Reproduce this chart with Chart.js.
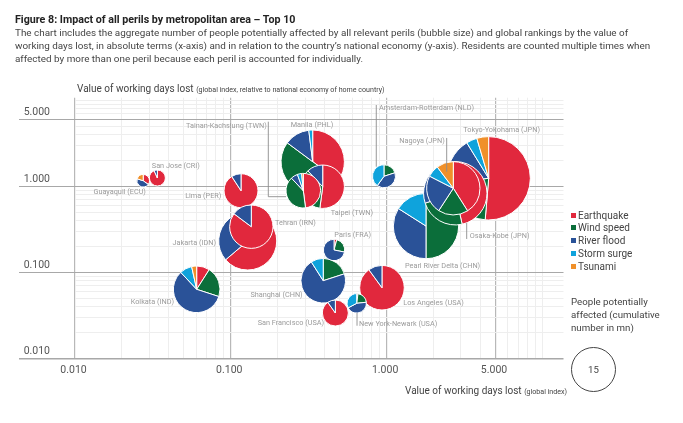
<!DOCTYPE html>
<html>
<head>
<meta charset="utf-8">
<title>Figure 8</title>
<script src="https://cdn.jsdelivr.net/npm/chart.js@4"></script>
<style>
  body { margin: 0; background: #fff; font-family: Roboto, sans-serif; color: #444; }
  #wrap { position: relative; width: 683px; height: 423px; overflow: hidden; }
  #line-chart { position: absolute; left: 0; top: 0; }
  .txt { position: absolute; white-space: nowrap; }
  .small { font-size: 7.1px; }
  #head { left: 15px; top: 13px; font-size: 10.7px; font-weight: bold; color: #222; }
  #intro { left: 15px; top: 26px; font-size: 9.9px; line-height: 13px; color: #444; }
  #yTitle { left: 77px; top: 83px; font-size: 10px; }
  #xTitle { left: 405px; top: 385px; font-size: 10px; }
  #legend { left: 571px; top: 209.5px; font-size: 10px; line-height: 12.9px; }
  #legend i { display: inline-block; width: 5px; height: 5px; margin-right: 2px; vertical-align: 1px; }
  #sizeNote { left: 571px; top: 296px; font-size: 9.7px; line-height: 12.8px; }
  #sizeKey { left: 571px; top: 347px; width: 43px; height: 43px; border: 1px solid #444; border-radius: 50%;
    text-align: center; line-height: 43px; font-size: 9.6px; }
</style>
</head>
<body>
<div id="wrap">
  <canvas id="line-chart" width="683" height="423"></canvas>
  <div class="txt" id="head">Figure 8: Impact of all perils by metropolitan area – Top 10</div>
  <div class="txt" id="intro">The chart includes the aggregate number of people potentially affected by all relevant perils (bubble size) and global rankings by the value of<br>working days lost, in absolute terms (x-axis) and in relation to the country’s national economy (y-axis). Residents are counted multiple times when<br>affected by more than one peril because each peril is accounted for individually.</div>
  <div class="txt" id="yTitle">Value of working days lost <span class="small">(global index, relative to national economy of home country)</span></div>
  <div class="txt" id="xTitle">Value of working days lost <span class="small">(global index)</span></div>
  <div class="txt" id="legend"></div>
  <div class="txt" id="sizeNote">People potentially<br>affected (cumulative<br>number in mn)</div>
  <div class="txt" id="sizeKey">15</div>
</div>
<script>
// listed in drawing order, later cities sit on top
var cities = ["Guayaquil (ECU)", "San Jose (CRI)", "Lima (PER)", "Jakarta (IDN)", "Tehran (IRN)", "Manila (PHL)", "Taipei (TWN)", "Tainan-Kachsiung (TWN)", "Amsterdam-Rotterdam (NLD)", "Pearl River Delta (CHN)", "Tokyo-Yokohama (JPN)", "Osaka-Kobe (JPN)", "Nagoya (JPN)", "Los Angeles (USA)", "Shanghai (CHN)", "San Francisco (USA)", "New York-Newark (USA)", "Paris (FRA)", "Kolkata (IND)"]
var xValues = [0.0274, 0.0338, 0.1163, 0.1284, 0.1354, 0.3355, 0.389, 0.292, 0.962, 1.79, 4.52, 2.76, 2.68, 0.934, 0.392, 0.469, 0.643, 0.46, 0.0604]
var yValues = [1.16, 1.248, 0.889, 0.232, 0.34, 1.929, 0.989, 0.889, 1.306, 0.346, 1.238, 0.83, 0.948, 0.0666, 0.0803, 0.0339, 0.0439, 0.1824, 0.0638]

// people affected per peril, mn
var earthquake = [0.42, 1.8, 7.9, 16.2, 12.1, 10.6, 7.4, 4.33, 0, 0, 26.9, 14.1, 8.8, 13.5, 0, 4.6, 0.06, 0.14, 1.48]
var windSpeed = [0, 0, 0, 0, 0, 15.2, 5.1, 3.61, 0.8, 16.1, 11.5, 7.1, 3.9, 0, 3, 0, 0.6, 0.83, 3.44]
var riverFlood = [0.54, 0.13, 0.8, 9.2, 2.1, 3.9, 1.7, 0.59, 1.59, 10.95, 9.4, 6.1, 5, 1.5, 10.65, 0.5, 1.25, 2.48, 9.5]
var stormSurge = [0, 0, 0, 0, 0, 0.6, 0, 0.36, 1.6, 5.15, 2.2, 1.8, 1.55, 0, 1.35, 0, 0.93, 0, 1.4]
var tsunami = [0.24, 0, 0, 0, 0, 0, 0, 0.14, 0, 0, 2.4, 1.2, 2.2, 0, 0, 0, 0, 0, 0.57]

var perilNames = ["Earthquake", "Wind speed", "River flood", "Storm surge", "Tsunami"]
var perilValues = [earthquake, windSpeed, riverFlood, stormSurge, tsunami]
var perilColors = ["#e1283d", "#0b6e3a", "#2a5298", "#0fa3dc", "#f0902a"]

var xMajorTicks = [0.01, 0.1, 1, 5]
var xTickLabels = ["0.010", "0.100", "1.000", "5.000"]
var xMinorTicks = [0.02, 0.03, 0.04, 0.05, 0.06, 0.07, 0.08, 0.09, 0.2, 0.3, 0.4, 0.5, 0.6, 0.7, 0.8, 0.9, 2, 3, 4, 6, 7, 8, 9, 10]
// the original draws its top rule, labelled 5.000, where 6 falls on the log grid
var yMajorTicks = [0.01, 0.1, 1, 6]
var yTickLabels = ["0.010", "0.100", "1.000", "5.000"]
var yMinorTicks = [0.02, 0.03, 0.04, 0.05, 0.06, 0.07, 0.08, 0.09, 0.2, 0.3, 0.4, 0.5, 0.6, 0.7, 0.8, 0.9, 2, 3, 4, 5, 7, 8, 9, 10]

var keyPeople = 15
var keyRadius = 22.3

// label placement next to each bubble, same order as cities: dx, dy, align
var labelSpots = [[2.7, 11, "right"], [-5.6, -12.3, "left"], [-19.7, 5.6, "right"], [-31.7, 1.7, "right"], [23.7, -3.4, "left"], [-22, -36.7, "left"], [8, 26.6, "left"], [-36.6, -65, "right"], [-5, -68, "left"], [-21, 39.7, "left"], [-25.4, -48, "left"], [14.4, 42.7, "left"], [-8.6, -47.3, "right"], [21.3, 15.3, "left"], [-20.6, 14.6, "right"], [-11.3, 9.7, "right"], [2.3, 20.4, "left"], [0.3, -15.3, "left"], [-22.7, 13, "right"]]
var leaders = {
  "Tainan-Kachsiung (TWN)": [[-35, -69], [-35, 6], [-17.3, 6]],
  "Amsterdam-Rotterdam (NLD)": [[-7.7, -71.3], [-7.7, -9.6]],
  "Nagoya (JPN)": [[-6.6, -50.3], [-6.6, -16.6]],
  "Osaka-Kobe (JPN)": [[11.4, 29.7], [11.4, 45.7]],
  "New York-Newark (USA)": [[0.3, 9.7], [0.3, 22.4]]
}

function cityTotal(i){
  var total = 0
  for (var p = 0; p < perilValues.length; p++){
    total += perilValues[p][i]
  }
  return total
}

function bubbleRows(){
  var rows = []
  for (var i = 0; i < cities.length; i++){
    rows.push({x: xValues[i], y: yValues[i], r: keyRadius * Math.sqrt(cityTotal(i) / keyPeople)})
  }
  return rows
}

function tickObjects(major, minor){
  var out = []
  major.concat(minor).sort(function(a, b){ return a - b }).forEach(function(v){
    out.push({value: v})
  })
  return out
}

function drawPie(ctx, x, y, r, i){
  var total = cityTotal(i)
  var angle = -Math.PI / 2
  for (var p = 0; p < perilValues.length; p++){
    var part = perilValues[p][i]
    if (!part) continue
    var next = angle + part / total * Math.PI * 2
    ctx.beginPath()
    ctx.moveTo(x, y)
    ctx.arc(x, y, r, angle, next)
    ctx.closePath()
    ctx.fillStyle = perilColors[p]
    ctx.fill()
    ctx.lineWidth = 1
    ctx.strokeStyle = "#fff"
    ctx.stroke()
    angle = next
  }
}

var pieBubbles = {
  id: "pieBubbles",
  afterDatasetsDraw: function(chart){
    var ctx = chart.ctx
    var bubbles = chart.getDatasetMeta(0).data
    ctx.save()
    bubbles.forEach(function(el, i){
      drawPie(ctx, el.x, el.y, el.options.radius, i)
    })
    ctx.strokeStyle = "#8c8c8c"
    ctx.lineWidth = 0.9
    bubbles.forEach(function(el, i){
      var line = leaders[cities[i]]
      if (!line) return
      ctx.beginPath()
      line.forEach(function(pt, n){
        if (n == 0) ctx.moveTo(el.x + pt[0], el.y + pt[1])
        else ctx.lineTo(el.x + pt[0], el.y + pt[1])
      })
      ctx.stroke()
    })
    ctx.font = "7.3px Roboto"
    ctx.fillStyle = "#9b9b9b"
    ctx.textBaseline = "middle"
    bubbles.forEach(function(el, i){
      ctx.textAlign = labelSpots[i][2]
      ctx.fillText(cities[i], el.x + labelSpots[i][0], el.y + labelSpots[i][1])
    })
    ctx.restore()
  }
}

var legendHTML = ""
for (var p = 0; p < perilNames.length; p++){
  legendHTML += "<i style='background:" + perilColors[p] + "'></i>" + perilNames[p] + "<br>"
}
document.getElementById("legend").innerHTML = legendHTML

var myChart = new Chart(document.getElementById("line-chart"), {
  type: "bubble",
  plugins: [pieBubbles],
  data: {
    datasets: [{
      data: bubbleRows(),
      backgroundColor: "rgba(0,0,0,0)",
      borderWidth: 0
    }]
  },
  options: {
    responsive: false,
    animation: false,
    layout: {padding: {left: 19, top: 97.7, right: 119.5, bottom: 0}},
    plugins: {legend: {display: false}, tooltip: {enabled: false}},
    scales: {
      x: {
        type: "logarithmic",
        min: 0.01,
        max: 13.66,
        afterFit: function(scale){ scale.height = 64.3 },
        afterBuildTicks: function(scale){ scale.ticks = tickObjects(xMajorTicks, xMinorTicks) },
        border: {display: false},
        grid: {
          drawTicks: false,
          color: function(c){ return xMajorTicks.includes(c.tick.value) ? "#b8b8b8" : "#eeeeee" },
          lineWidth: function(c){ return xMajorTicks.includes(c.tick.value) ? 1.2 : 1 }
        },
        ticks: {
          autoSkip: false,
          maxRotation: 0,
          padding: 5,
          labelOffset: -1.5,
          color: "#555",
          font: {family: "Roboto", size: 10.5},
          callback: function(v){
            var at = xMajorTicks.indexOf(v)
            return at < 0 ? "" : xTickLabels[at]
          }
        }
      },
      y: {
        type: "logarithmic",
        min: 0.01,
        max: 10.66,
        afterFit: function(scale){ scale.width = 56 },
        afterBuildTicks: function(scale){ scale.ticks = tickObjects(yMajorTicks, yMinorTicks) },
        border: {display: false},
        grid: {
          tickLength: 56,
          tickColor: function(c){ return yMajorTicks.includes(c.tick.value) ? "#a8a8a8" : "rgba(0,0,0,0)" },
          color: function(c){ return yMajorTicks.includes(c.tick.value) ? "#a8a8a8" : "#eeeeee" },
          lineWidth: function(c){
            if (c.tick.value == 0.01) return 1.6
            return yMajorTicks.includes(c.tick.value) ? 1.1 : 1
          }
        },
        ticks: {
          autoSkip: false,
          crossAlign: "near",
          padding: -31,
          labelOffset: -7,
          color: "#555",
          font: {family: "Roboto", size: 10.5},
          callback: function(v){
            var at = yMajorTicks.indexOf(v)
            return at < 0 ? "" : yTickLabels[at]
          }
        }
      }
    }
  }
})
</script>
</body>
</html>
